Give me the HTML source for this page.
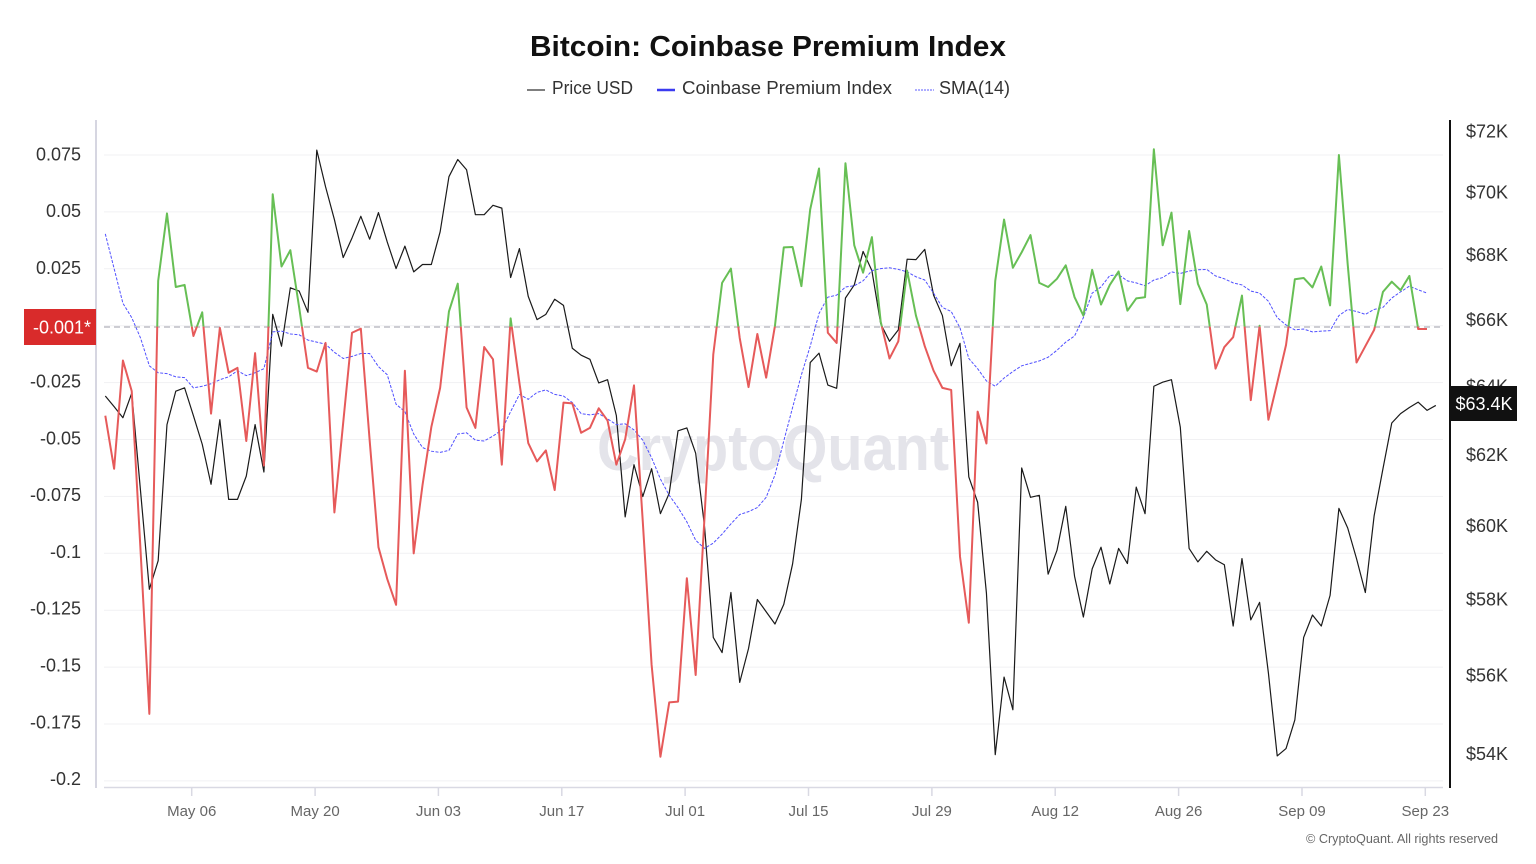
<!DOCTYPE html>
<html><head><meta charset="utf-8"><style>
html,body{margin:0;padding:0;background:#fff;}
svg{display:block;font-family:"Liberation Sans",sans-serif;}
</style></head><body>
<svg width="1536" height="864" viewBox="0 0 1536 864" xmlns="http://www.w3.org/2000/svg">
<defs>
<clipPath id="cg" clipPathUnits="userSpaceOnUse"><rect x="-5" y="-600" width="170" height="1082"/></clipPath>
<clipPath id="cr" clipPathUnits="userSpaceOnUse"><rect x="-5" y="482" width="170" height="2000"/></clipPath>
</defs>
<rect width="1536" height="864" fill="#fff"/>
<!-- title & legend -->
<text x="768" y="56" text-anchor="middle" font-size="29" font-weight="bold" fill="#111" textLength="476" lengthAdjust="spacingAndGlyphs">Bitcoin: Coinbase Premium Index</text>
<line x1="527" y1="90" x2="545" y2="90" stroke="#333" stroke-width="1.3"/>
<text x="552" y="94" font-size="18" fill="#333" textLength="81" lengthAdjust="spacingAndGlyphs">Price USD</text>
<line x1="657" y1="90" x2="675" y2="90" stroke="#3b3bf0" stroke-width="2.5"/>
<text x="682" y="94" font-size="18" fill="#333" textLength="210" lengthAdjust="spacingAndGlyphs">Coinbase Premium Index</text>
<line x1="915" y1="90" x2="934" y2="90" stroke="#5b5bff" stroke-width="1" stroke-dasharray="2,1"/>
<text x="939" y="94" font-size="18" fill="#333" textLength="71" lengthAdjust="spacingAndGlyphs">SMA(14)</text>
<!-- gridlines -->
<g stroke="#f1f1f3" stroke-width="1">
<line x1="104" x2="1443" y1="155" y2="155"/><line x1="104" x2="1443" y1="211.9" y2="211.9"/>
<line x1="104" x2="1443" y1="268.8" y2="268.8"/><line x1="104" x2="1443" y1="325.7" y2="325.7"/>
<line x1="104" x2="1443" y1="382.6" y2="382.6"/><line x1="104" x2="1443" y1="439.5" y2="439.5"/>
<line x1="104" x2="1443" y1="496.4" y2="496.4"/><line x1="104" x2="1443" y1="553.3" y2="553.3"/>
<line x1="104" x2="1443" y1="610.2" y2="610.2"/><line x1="104" x2="1443" y1="667.1" y2="667.1"/>
<line x1="104" x2="1443" y1="724" y2="724"/><line x1="104" x2="1443" y1="780.9" y2="780.9"/>
</g>
<!-- watermark -->
<text x="773" y="470" text-anchor="middle" font-size="64" font-weight="bold" fill="#e4e4ea" textLength="352" lengthAdjust="spacingAndGlyphs">CryptoQuant</text>
<!-- dashed reference -->
<line x1="104" x2="1443" y1="327" y2="327" stroke="#bdbdc6" stroke-width="1.5" stroke-dasharray="6,4"/>
<!-- axes -->
<line x1="96" y1="120" x2="96" y2="788" stroke="#d6d6e1" stroke-width="2"/>
<line x1="1450" y1="120" x2="1450" y2="788" stroke="#111" stroke-width="2"/>
<line x1="104" y1="787.5" x2="1443" y2="787.5" stroke="#d9d9e3" stroke-width="1.5"/>
<g stroke="#d9d9e3" stroke-width="1.5">
<line x1="191.7" x2="191.7" y1="787" y2="796"/><line x1="315.1" x2="315.1" y1="787" y2="796"/>
<line x1="438.4" x2="438.4" y1="787" y2="796"/><line x1="561.8" x2="561.8" y1="787" y2="796"/>
<line x1="685.1" x2="685.1" y1="787" y2="796"/><line x1="808.5" x2="808.5" y1="787" y2="796"/>
<line x1="931.9" x2="931.9" y1="787" y2="796"/><line x1="1055.2" x2="1055.2" y1="787" y2="796"/>
<line x1="1178.6" x2="1178.6" y1="787" y2="796"/><line x1="1302" x2="1302" y1="787" y2="796"/>
<line x1="1425.3" x2="1425.3" y1="787" y2="796"/>
</g>
<g font-size="15" fill="#666" text-anchor="middle">
<text x="191.7" y="816">May 06</text><text x="315.1" y="816">May 20</text>
<text x="438.4" y="816">Jun 03</text><text x="561.8" y="816">Jun 17</text>
<text x="685.1" y="816">Jul 01</text><text x="808.5" y="816">Jul 15</text>
<text x="931.9" y="816">Jul 29</text><text x="1055.2" y="816">Aug 12</text>
<text x="1178.6" y="816">Aug 26</text><text x="1302" y="816">Sep 09</text>
<text x="1425.3" y="816">Sep 23</text>
</g>
<text x="1498" y="843" text-anchor="end" font-size="13" fill="#666" textLength="192" lengthAdjust="spacingAndGlyphs">© CryptoQuant. All rights reserved</text>
<!-- left labels -->
<g font-size="18" fill="#333" text-anchor="end">
<text x="81" y="160.3">0.075</text><text x="81" y="217.1">0.05</text>
<text x="81" y="273.9">0.025</text><text x="81" y="387.5">-0.025</text>
<text x="81" y="444.3">-0.05</text><text x="81" y="501.1">-0.075</text>
<text x="81" y="557.9">-0.1</text><text x="81" y="614.7">-0.125</text>
<text x="81" y="671.5">-0.15</text><text x="81" y="728.3">-0.175</text>
<text x="81" y="785.1">-0.2</text>
</g>
<rect x="24" y="309" width="72" height="36" fill="#d92b2b"/>
<text x="91" y="333.5" text-anchor="end" font-size="18" fill="#fff">-0.001*</text>
<!-- right labels -->
<g font-size="18" fill="#333">
<text x="1466" y="137.5">$72K</text><text x="1466" y="198.5">$70K</text>
<text x="1466" y="261.2">$68K</text><text x="1466" y="325.8">$66K</text>
<text x="1466" y="392.4">$64K</text><text x="1466" y="461.1">$62K</text>
<text x="1466" y="532">$60K</text><text x="1466" y="605.4">$58K</text>
<text x="1466" y="681.3">$56K</text><text x="1466" y="760">$54K</text>
</g>
<!-- data -->
<g transform="translate(105.3,129.7) scale(8.8114,0.4085)" fill="none" stroke-linejoin="round">
<polyline vector-effect="non-scaling-stroke" stroke="#1a1a1a" stroke-width="1.2" points="0,652 1,678 2,705 3,645 4,885 5,1125 6,1055 7,722 8,640 9,632 10,700 11,770 12,868 13,710 14,905 15,905 16,848 17,722 18,838 19,452 20,530 21,387 22,395 23,447 24,50 25,140 26,220 27,313 28,265 29,212 30,268 31,203 32,275 33,340 34,285 35,348 36,330 37,330 38,250 39,115 40,73 41,98 42,208 43,208 44,185 45,192 46,362 47,291 48,408 49,465 50,452 51,415 52,430 53,535 54,552 55,562 56,620 57,612 58,700 59,948 60,820 61,898 62,830 63,940 64,890 65,737 66,730 67,792 68,970 69,1243 70,1280 71,1133 72,1353 73,1270 74,1150 75,1180 76,1210 77,1162 78,1063 79,905 80,570 81,547 82,625 83,633 84,412 85,380 86,298 87,345 88,475 89,518 90,490 91,317 92,318 93,293 94,405 95,455 96,578 97,523 98,850 99,912 100,1135 101,1530 102,1340 103,1420 104,828 105,900 106,895 107,1088 108,1030 109,922 110,1093 111,1193 112,1075 113,1022 114,1112 115,1025 116,1062 117,875 118,940 119,628 120,618 121,612 122,728 123,1025 124,1058 125,1032 126,1053 127,1065 128,1215 129,1050 130,1200 131,1157 132,1330 133,1533 134,1515 135,1445 136,1243 137,1188 138,1215 139,1140 140,927 141,975 142,1050 143,1133 144,945 145,830 146,718 147,695 148,680 149,667 150,687 151,675"/>
<polyline vector-effect="non-scaling-stroke" stroke="#5050ff" stroke-width="1" stroke-dasharray="3,1.5" points="0,255 1,340 2,425 3,460 4,510 5,578 6,595 7,597 8,605 9,607 10,632 11,628 12,622 13,612 14,605 15,590 16,602 17,595 18,585 19,495 20,493 21,500 22,502 23,515 24,520 25,525 26,545 27,560 28,555 29,548 30,548 31,580 32,600 33,672 34,690 35,745 36,778 37,787 38,790 39,785 40,745 41,742 42,760 43,762 44,750 45,735 46,690 47,648 48,660 49,643 50,637 51,648 52,652 53,668 54,695 55,698 56,695 57,708 58,722 59,720 60,735 61,760 62,803 63,855 64,895 65,925 66,960 67,1005 68,1025 69,1012 70,990 71,965 72,942 73,935 74,925 75,900 76,845 77,762 78,680 79,600 80,530 81,450 82,410 83,405 84,385 85,382 86,370 87,345 88,340 89,338 90,342 91,348 92,360 93,368 94,400 95,435 96,445 97,485 98,560 99,585 100,615 101,628 102,608 103,592 104,578 105,572 106,566 107,557 108,540 109,520 110,505 111,460 112,400 113,385 114,357 115,355 116,370 117,375 118,382 119,368 120,362 121,348 122,352 123,346 124,343 125,342 126,358 127,365 128,375 129,380 130,395 131,400 132,420 133,460 134,478 135,490 136,488 137,495 138,493 139,492 140,455 141,440 142,445 143,452 144,440 145,435 146,412 147,397 148,383 149,392 150,400"/>
<polyline id="prem" vector-effect="non-scaling-stroke" stroke="#67bf55" stroke-width="2" clip-path="url(#cg)" points="0,700 1,830 2,565 3,640 4,1030 5,1430 6,370 7,205 8,385 9,380 10,505 11,447 12,695 13,485 14,595 15,583 16,762 17,547 18,822 19,158 20,335 21,295 22,435 23,583 24,592 25,522 26,937 27,717 28,497 29,487 30,760 31,1022 32,1100 33,1163 34,590 35,1037 36,870 37,728 38,632 39,445 40,377 41,680 42,730 43,532 44,562 45,820 46,462 47,620 48,767 49,812 50,785 51,882 52,668 53,670 54,742 55,730 56,682 57,712 58,820 59,758 60,626 61,960 62,1310 63,1535 64,1402 65,1400 66,1098 67,1335 68,950 69,550 70,375 71,340 72,510 73,630 74,500 75,607 76,480 77,288 78,287 79,383 80,195 81,95 82,497 83,522 84,82 85,283 86,350 87,263 88,470 89,560 90,518 91,345 92,455 93,530 94,590 95,632 96,637 97,1045 98,1207 99,690 100,768 101,370 102,220 103,338 104,300 105,258 106,375 107,385 108,365 109,332 110,410 111,455 112,343 113,428 114,380 115,347 116,443 117,413 118,410 119,48 120,283 121,203 122,427 123,248 124,377 125,428 126,585 127,532 128,508 129,406 130,662 131,480 132,710 133,620 134,527 135,366 136,363 137,386 138,335 139,430 140,62 141,330 142,570 143,530 144,490 145,397 146,372 147,393 148,358 149,488 150,488"/>
<polyline vector-effect="non-scaling-stroke" stroke="#e65a5a" stroke-width="2" clip-path="url(#cr)" points="0,700 1,830 2,565 3,640 4,1030 5,1430 6,370 7,205 8,385 9,380 10,505 11,447 12,695 13,485 14,595 15,583 16,762 17,547 18,822 19,158 20,335 21,295 22,435 23,583 24,592 25,522 26,937 27,717 28,497 29,487 30,760 31,1022 32,1100 33,1163 34,590 35,1037 36,870 37,728 38,632 39,445 40,377 41,680 42,730 43,532 44,562 45,820 46,462 47,620 48,767 49,812 50,785 51,882 52,668 53,670 54,742 55,730 56,682 57,712 58,820 59,758 60,626 61,960 62,1310 63,1535 64,1402 65,1400 66,1098 67,1335 68,950 69,550 70,375 71,340 72,510 73,630 74,500 75,607 76,480 77,288 78,287 79,383 80,195 81,95 82,497 83,522 84,82 85,283 86,350 87,263 88,470 89,560 90,518 91,345 92,455 93,530 94,590 95,632 96,637 97,1045 98,1207 99,690 100,768 101,370 102,220 103,338 104,300 105,258 106,375 107,385 108,365 109,332 110,410 111,455 112,343 113,428 114,380 115,347 116,443 117,413 118,410 119,48 120,283 121,203 122,427 123,248 124,377 125,428 126,585 127,532 128,508 129,406 130,662 131,480 132,710 133,620 134,527 135,366 136,363 137,386 138,335 139,430 140,62 141,330 142,570 143,530 144,490 145,397 146,372 147,393 148,358 149,488 150,488"/>
</g>
<!-- current price badge -->
<rect x="1451" y="386" width="66" height="35" fill="#111"/>
<text x="1484" y="410" text-anchor="middle" font-size="18" fill="#fff">$63.4K</text>
</svg>
</body></html>
